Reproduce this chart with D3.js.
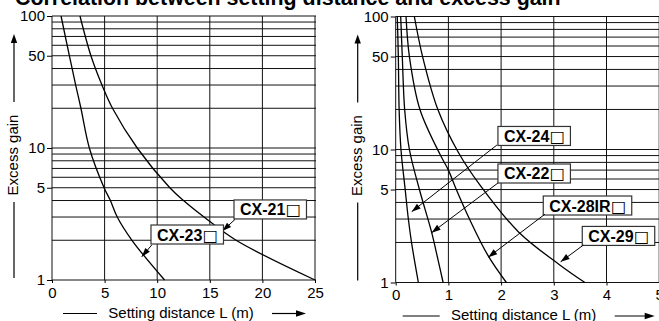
<!DOCTYPE html>
<html><head><meta charset="utf-8">
<script src="https://cdn.jsdelivr.net/npm/d3@7"></script>
<style>
html,body{margin:0;padding:0;background:#fff;}
svg{display:block;}
text{font-family:"Liberation Sans",Arial,Helvetica,sans-serif;fill:#000;}
</style></head>
<body>
<script>
// ---------------- data ----------------
const titleText = "Correlation between setting distance and excess gain";
const yAxisTitle = "Excess gain";
const xAxisTitle = "Setting distance L (m)";
const yTickValues = [1, 5, 10, 50, 100];
const yGridValues = [1, 2, 3, 4, 5, 6, 7, 8, 9, 10, 20, 30, 40, 50, 60, 70, 80, 90, 100];
const leftXTicks = [0, 5, 10, 15, 20, 25];
const rightXTicks = [0, 1, 2, 3, 4, 5];

// [distance L (m), excess gain]
const cx21 = [[2.66,100],[3.7,50],[4.75,30],[5.75,20],[8.1,10],[11.2,5],[12.5,4],[14.45,3],[17.5,2],[25,1]];
const cx23 = [[0.86,100],[1.65,50],[2.25,30],[2.75,20],[3.55,10],[4.95,5],[5.55,4],[6.2,3],[7.6,2],[10.7,1]];
const cx24 = [[0.03,100],[0.05,50],[0.065,20],[0.10,10],[0.18,5],[0.24,3],[0.30,2],[0.43,1]];
const cx22 = [[0.095,100],[0.125,50],[0.17,20],[0.26,10],[0.45,5],[0.68,2.4],[0.80,1.5],[0.90,1]];
const cx28ir = [[0.196,100],[0.26,50],[0.46,20],[0.84,9.2],[1.0,7],[1.15,5],[1.4,3],[1.75,1.6],[2.1,1]];
const cx29 = [[0.354,100],[0.51,50],[0.80,20],[1.19,9.5],[1.6,5.4],[2.33,2.4],[3.12,1.35],[3.59,1]];

const leftNames = ["CX-21", "CX-23"];
const rightNames = ["CX-24", "CX-22", "CX-28IR", "CX-29"];

// ---------------- drawing ----------------
const W = 659, H = 321;
const svg = d3.select("body").append("svg").attr("width", W).attr("height", H);
svg.append("rect").attr("width", W).attr("height", H).attr("fill", "#fff");

svg.append("text").attr("x", 15).attr("y", 5)
  .attr("font-size", 21.4).attr("font-weight", "bold").text(titleText);

function arrowHead(g, x1, y1, x2, y2, len, half) {
  const a = Math.atan2(y2 - y1, x2 - x1);
  const bx = x2 - len * Math.cos(a), by = y2 - len * Math.sin(a);
  const px = -Math.sin(a) * half, py = Math.cos(a) * half;
  g.append("path")
    .attr("d", `M${x2},${y2}L${bx + px},${by + py}L${bx - px},${by - py}Z`)
    .attr("fill", "#000");
}

function drawChart(cfg) {
  const x = d3.scaleLinear().domain(cfg.xDomain).range(cfg.xRange);
  const y = d3.scaleLog().domain([1, 100]).range(cfg.yRange);
  const g = svg.append("g");
  const x0 = cfg.xRange[0], x1 = cfg.xRange[1];
  const yb = cfg.yRange[0], yt = cfg.yRange[1];

  // horizontal grid
  g.selectAll(".hg").data(yGridValues).enter().append("line")
    .attr("x1", x0).attr("x2", x1 + 1)
    .attr("y1", d => y(d)).attr("y2", d => y(d))
    .attr("stroke", "#111").attr("stroke-width", 1);
  // vertical grid
  g.selectAll(".vg").data(cfg.xTicks).enter().append("line")
    .attr("x1", d => x(d)).attr("x2", d => x(d))
    .attr("y1", yt).attr("y2", yb)
    .attr("stroke", "#111").attr("stroke-width", 1);

  // y axis ticks + labels
  const yAxis = d3.axisLeft(y).tickValues(yTickValues).tickFormat(d3.format("d"))
    .tickSize(5).tickPadding(2);
  const ya = g.append("g").attr("transform", `translate(${x0},0)`).call(yAxis);
  ya.select(".domain").remove();
  ya.selectAll("text").attr("font-size", 15).attr("font-family", "Liberation Sans, Arial, sans-serif").attr("fill", "#000");
  ya.selectAll("line").attr("stroke", "#000");

  // x axis labels
  const xAxis = d3.axisBottom(x).tickValues(cfg.xTicks).tickFormat(d3.format("d"))
    .tickSize(3).tickPadding(4);
  const xa = g.append("g").attr("transform", `translate(0,${yb})`).call(xAxis);
  xa.select(".domain").remove();
  xa.selectAll("text").attr("font-size", 15).attr("font-family", "Liberation Sans, Arial, sans-serif").attr("fill", "#000");
  xa.selectAll("line").attr("stroke", "#000");

  // curves
  const line = d3.line().x(d => x(d[0])).y(d => y(d[1])).curve(d3.curveCatmullRom.alpha(0.5));
  g.selectAll(".curve").data(cfg.curves).enter().append("path")
    .attr("d", d => line(d)).attr("fill", "none")
    .attr("stroke", "#000").attr("stroke-width", 1.3);

  // y axis title with arrows
  const lx = x0 - 38;
  g.append("line").attr("x1", lx).attr("x2", lx).attr("y1", yt + 86).attr("y2", yt + 25)
    .attr("stroke", "#000").attr("stroke-width", 1.2);
  arrowHead(g, lx, yt + 86, lx, yt + 18, 9, 3.2);
  g.append("line").attr("x1", lx).attr("x2", lx).attr("y1", yt + 186).attr("y2", yb - 2)
    .attr("stroke", "#000").attr("stroke-width", 1.2);
  g.append("text").attr("transform", `translate(${x0 - 33.7},${yt + 139}) rotate(-90)`)
    .attr("text-anchor", "middle").attr("font-size", 15).text(yAxisTitle);

  // x axis title with arrows
  const ty = cfg.xTitleY, o = cfg.xTitleOff;
  g.append("line").attr("x1", x0 + o[0]).attr("x2", x0 + o[1]).attr("y1", ty - 4).attr("y2", ty - 4)
    .attr("stroke", "#000").attr("stroke-width", 1.2);
  g.append("text").attr("x", x0 + o[2]).attr("y", ty).attr("text-anchor", "middle")
    .attr("font-size", 15).text(xAxisTitle);
  g.append("line").attr("x1", x0 + o[3]).attr("x2", x0 + o[4] - 8).attr("y1", ty - 4).attr("y2", ty - 4)
    .attr("stroke", "#000").attr("stroke-width", 1.2);
  arrowHead(g, x0 + o[3], ty - 4, x0 + o[4], ty - 4, 10, 3.2);

  // labels with boxes and arrows
  cfg.labels.forEach(lb => {
    const bx = x(lb.box[0]), by = y(lb.box[1]);
    const lg = g.append("g");
    const rect = lg.append("rect").attr("x", bx).attr("y", by).attr("height", 19)
      .attr("fill", "#fff").attr("stroke", "#333").attr("stroke-width", 1.2);
    const t = lg.append("text").attr("x", bx + 6).attr("y", by + 15.5)
      .attr("font-size", 16).attr("font-weight", "bold");
    t.append("tspan").text(lb.name);
    t.append("tspan").attr("font-family", "DejaVu Sans").attr("font-weight", "normal")
      .attr("font-size", 16).attr("dx", 0.5).text("\u25A1");
    const w = t.node().getComputedTextLength();
    rect.attr("width", w + 12);
    const sx = x(lb.from[0]), sy = y(lb.from[1]);
    const ex = x(lb.tip[0]), ey = y(lb.tip[1]);
    g.append("line").attr("x1", sx).attr("y1", sy).attr("x2", ex).attr("y2", ey)
      .attr("stroke", "#000").attr("stroke-width", 1);
    arrowHead(g, sx, sy, ex, ey, 9, 3);
  });
}

drawChart({
  xDomain: [0, 25], xRange: [52, 315], yRange: [280, 16],
  xTicks: leftXTicks, curves: [cx21, cx23], xTitleY: 317.5,
  xTitleOff: [11, 45, 129, 220, 254],
  labels: [
    {name: leftNames[0], box: [17.3, 4.04], from: [17.4, 2.88], tip: [16.2, 2.35]},
    {name: leftNames[1], box: [9.41, 2.61], from: [9.48, 1.84], tip: [8.53, 1.50]}
  ]
});

drawChart({
  xDomain: [0, 5], xRange: [395.7, 659.2], yRange: [282.5, 16.5],
  xTicks: rightXTicks, curves: [cx24, cx22, cx28ir, cx29], xTitleY: 320,
  xTitleOff: [7, 44, 128, 219, 259],
  labels: [
    {name: rightNames[0], box: [1.94, 14.9], from: [1.92, 10.8], tip: [0.304, 3.41]},
    {name: rightNames[1], box: [1.94, 7.78], from: [1.94, 5.6], tip: [0.683, 2.37]},
    {name: rightNames[2], box: [2.80, 4.47], from: [2.83, 3.26], tip: [1.757, 1.55]},
    {name: rightNames[3], box: [3.54, 2.64], from: [3.56, 1.91], tip: [3.13, 1.43]}
  ]
});
</script>
</body></html>
